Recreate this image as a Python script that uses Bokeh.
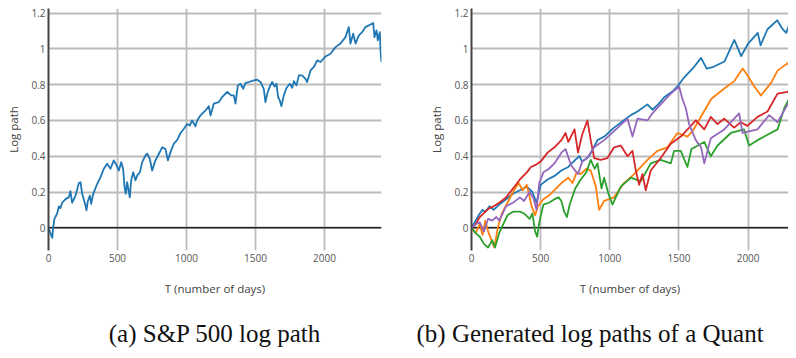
from bokeh.plotting import figure
from bokeh.models import Span, FixedTicker, CustomJSTickFormatter, Range1d, Label
from bokeh.layouts import row, column
from bokeh.embed import file_html
from bokeh.resources import INLINE

# ---------------- data ----------------
x_ticks = [0, 500, 1000, 1500, 2000]
y_ticks = [0, 0.2, 0.4, 0.6, 0.8, 1.0, 1.2]
x_title = "T (number of days)"
y_title = "Log path"
caption_a = "(a) S&P 500 log path"
caption_b = "(b) Generated log paths of a Quant"

sp_t = [0, 14, 27, 34, 43, 63, 75, 87, 99, 123,
        147, 159, 171, 196, 220, 232, 244, 268, 275, 285,
        300, 309, 324, 353, 377, 401, 425, 449, 473, 493,
        510, 527, 541, 551, 560, 570, 582, 589, 599, 614,
        630, 643, 662, 679, 703, 715, 734, 751, 775, 800,
        824, 848, 865, 884, 908, 932, 957, 981, 1005, 1024,
        1041, 1065, 1077, 1101, 1138, 1162, 1174, 1198, 1234, 1258,
        1295, 1324, 1343, 1355, 1372, 1391, 1411, 1428, 1452, 1488,
        1512, 1536, 1560, 1572, 1585, 1604, 1621, 1638, 1652, 1664,
        1676, 1688, 1705, 1725, 1749, 1766, 1778, 1797, 1814, 1838,
        1862, 1874, 1899, 1923, 1947, 1971, 2007, 2043, 2080, 2116,
        2152, 2176, 2188, 2208, 2225, 2249, 2273, 2297, 2333, 2353,
        2362, 2377, 2386, 2401, 2406, 2413]
sp_y = [0.0, -0.03, -0.056, 0.0, 0.05, 0.08, 0.12, 0.11, 0.14, 0.16,
        0.17, 0.205, 0.14, 0.18, 0.25, 0.255, 0.19, 0.125, 0.097, 0.15,
        0.18, 0.134, 0.19, 0.246, 0.283, 0.33, 0.358, 0.33, 0.377, 0.35,
        0.32, 0.367, 0.33, 0.227, 0.19, 0.255, 0.2, 0.17, 0.265, 0.31,
        0.265, 0.293, 0.31, 0.367, 0.405, 0.414, 0.386, 0.32, 0.377, 0.414,
        0.45, 0.44, 0.377, 0.423, 0.47, 0.49, 0.53, 0.554, 0.58, 0.572,
        0.6, 0.567, 0.6, 0.628, 0.656, 0.68, 0.628, 0.694, 0.703, 0.73,
        0.76, 0.74, 0.74, 0.694, 0.796, 0.805, 0.777, 0.81, 0.815, 0.824,
        0.828, 0.815, 0.777, 0.703, 0.75, 0.79, 0.815, 0.79, 0.805, 0.73,
        0.712, 0.68, 0.74, 0.783, 0.805, 0.783, 0.82, 0.796, 0.852, 0.852,
        0.833, 0.815, 0.88, 0.899, 0.936, 0.927, 0.958, 0.973, 1.01, 1.03,
        1.066, 1.122, 1.03, 1.085, 1.03, 1.076, 1.094, 1.122, 1.137, 1.145,
        1.066, 1.104, 1.048, 1.094, 0.99, 0.927]

blue_t = [0, 30, 60, 80, 100, 130, 160, 200, 250, 300, 350, 400, 440, 470, 500,
          550, 600, 650, 700, 750, 780, 800, 850, 911, 960, 1031, 1100, 1152, 1200,
          1272, 1308, 1350, 1393, 1450, 1489, 1537, 1610, 1660, 1700, 1750, 1830,
          1900, 1950, 2000, 2070, 2090, 2140, 2210, 2250, 2275, 2310, 2352]
blue_y = [0, 0.04, 0.08, 0.10, 0.09, 0.12, 0.10, 0.13, 0.16, 0.19, 0.21, 0.23, 0.20, 0.14, 0.24,
          0.27, 0.29, 0.32, 0.34, 0.38, 0.40, 0.37, 0.40, 0.49, 0.51, 0.56, 0.60, 0.63, 0.65,
          0.69, 0.66, 0.69, 0.73, 0.76, 0.79, 0.84, 0.90, 0.95, 0.89, 0.90, 0.93,
          1.05, 0.96, 1.03, 1.09, 1.02, 1.11, 1.16, 1.11, 1.09, 1.16, 1.20]

orange_t = [0, 30, 60, 80, 100, 120, 150, 165, 190, 220, 260, 300, 340, 370, 400,
            435, 460, 480, 520, 560, 600, 650, 700, 730, 760, 790, 830, 862, 899, 923,
            959, 1031, 1103, 1176, 1272, 1344, 1417, 1489, 1561, 1598, 1636, 1733, 1830,
            1900, 1961, 1997, 2045, 2093, 2166, 2214, 2286, 2322, 2352]
orange_y = [0, -0.03, 0.02, -0.04, 0.04, -0.02, -0.08, -0.11, 0.0, 0.08, 0.14, 0.20, 0.25, 0.21, 0.24,
            0.12, 0.07, 0.12, 0.16, 0.18, 0.21, 0.25, 0.28, 0.25, 0.31, 0.30, 0.33, 0.32, 0.23, 0.10,
            0.15, 0.17, 0.25, 0.30, 0.38, 0.43, 0.45, 0.53, 0.51, 0.54, 0.59, 0.72, 0.78,
            0.82, 0.89, 0.85, 0.79, 0.74, 0.81, 0.88, 0.92, 0.86, 0.88]

green_t = [0, 30, 60, 90, 120, 150, 170, 200, 230, 260, 300, 350, 380, 420, 440,
           460, 475, 490, 520, 560, 600, 630, 650, 670, 690, 710, 750, 790, 830, 862,
           890, 911, 940, 959, 990, 1019, 1079, 1152, 1224, 1296, 1368, 1441, 1465, 1513,
           1561, 1590, 1683, 1730, 1779, 1875, 1971, 2007, 2068, 2140, 2213, 2262, 2309, 2352]
green_y = [0, -0.03, -0.05, -0.09, -0.11, -0.07, -0.11, -0.03, 0.02, 0.07, 0.09, 0.09, 0.08, 0.05, 0.08,
           -0.02, -0.05, 0.03, 0.13, 0.14, 0.16, 0.17, 0.15, 0.09, 0.06, 0.13, 0.22, 0.27, 0.31, 0.38,
           0.33, 0.36, 0.22, 0.28, 0.19, 0.13, 0.23, 0.28, 0.26, 0.36, 0.38, 0.36, 0.43, 0.43,
           0.34, 0.44, 0.48, 0.40, 0.46, 0.53, 0.55, 0.46, 0.49, 0.52, 0.55, 0.67, 0.74, 0.76]

red_t = [0, 30, 60, 100, 130, 160, 200, 250, 300, 350, 400, 430, 460, 500, 550,
         600, 650, 680, 700, 745, 770, 800, 838, 862, 887, 935, 983, 1031, 1079, 1128,
         1164, 1188, 1212, 1236, 1260, 1296, 1368, 1441, 1513, 1586, 1622, 1683, 1730,
         1779, 1827, 1899, 1947, 1995, 2068, 2140, 2213, 2286, 2352]
red_y = [0, 0.02, 0.06, 0.09, 0.11, 0.12, 0.14, 0.17, 0.22, 0.27, 0.31, 0.34, 0.35, 0.37, 0.42,
         0.45, 0.49, 0.53, 0.48, 0.55, 0.42, 0.52, 0.60, 0.49, 0.39, 0.38, 0.39, 0.45, 0.46, 0.40,
         0.43, 0.32, 0.24, 0.30, 0.21, 0.32, 0.39, 0.47, 0.51, 0.57, 0.60, 0.55, 0.62,
         0.58, 0.61, 0.56, 0.59, 0.57, 0.62, 0.65, 0.75, 0.76, 0.81]

purple_t = [0, 30, 60, 90, 120, 150, 180, 200, 250, 300, 350, 380, 420, 450, 470,
            490, 520, 560, 600, 650, 680, 720, 770, 800, 838, 887, 959, 1031, 1128, 1164,
            1200, 1272, 1308, 1368, 1441, 1501, 1525, 1549, 1573, 1622, 1660, 1683, 1730,
            1827, 1935, 1960, 2068, 2152, 2213, 2286, 2322, 2352]
purple_y = [0, 0.02, 0.03, -0.02, 0.05, 0.04, 0.06, 0.04, 0.12, 0.14, 0.17, 0.15, 0.20, 0.16, 0.10,
            0.25, 0.31, 0.33, 0.36, 0.42, 0.44, 0.35, 0.30, 0.37, 0.39, 0.45, 0.49, 0.54, 0.61, 0.51,
            0.61, 0.60, 0.64, 0.69, 0.75, 0.79, 0.72, 0.67, 0.58, 0.49, 0.45, 0.36, 0.50,
            0.55, 0.64, 0.53, 0.55, 0.63, 0.59, 0.69, 0.73, 0.65]

generated = [
    (blue_t, blue_y, "#1f77b4"),
    (orange_t, orange_y, "#ff7f0e"),
    (green_t, green_y, "#2ca02c"),
    (red_t, red_y, "#d62728"),
    (purple_t, purple_y, "#9467bd"),
]

# ---------------- layout constants ----------------
Y_MIN, Y_MAX = -0.127, 1.226
PLOT_H = 300
TOP = 8
FRAME_H = 242
BOTTOM = PLOT_H - TOP - FRAME_H
CAP_H = 50
AX_FONT = "Open Sans"


def make_fig(width, b_left, b_right, x_end):
    p = figure(width=width, height=PLOT_H, title=None,
               output_backend="svg", toolbar_location=None,
               x_range=Range1d(0, x_end), y_range=Range1d(Y_MIN, Y_MAX),
               min_border_left=b_left, min_border_right=b_right,
               min_border_top=TOP, min_border_bottom=BOTTOM)
    p.outline_line_color = None
    p.background_fill_color = "white"
    p.border_fill_color = "white"

    p.xgrid.ticker = FixedTicker(ticks=x_ticks)
    p.ygrid.ticker = FixedTicker(ticks=y_ticks)
    p.grid.grid_line_color = "#bbbbbb"
    p.grid.grid_line_width = 1.8

    for ax in (p.xaxis[0], p.yaxis[0]):
        ax.major_tick_line_color = None
        ax.minor_tick_line_color = None
        ax.major_tick_out = 0
        ax.major_tick_in = 0
        ax.minor_tick_out = 0
        ax.major_label_text_font = AX_FONT
        ax.major_label_text_font_size = "10px"
        ax.major_label_text_color = "#555555"
        ax.axis_label_text_font = AX_FONT
        ax.axis_label_text_font_size = "11.5px"
        ax.axis_label_text_font_style = "normal"
        ax.axis_label_text_color = "#444444"

    xa = p.xaxis[0]
    xa.ticker = FixedTicker(ticks=x_ticks)
    xa.axis_line_color = None
    xa.major_label_standoff = 3
    xa.axis_label = x_title
    xa.axis_label_standoff = 16

    ya = p.yaxis[0]
    ya.ticker = FixedTicker(ticks=y_ticks)
    ya.formatter = CustomJSTickFormatter(code="return String(Math.round(tick*10)/10);")
    ya.axis_line_color = "#444444"
    ya.axis_line_width = 2
    ya.major_label_standoff = 3
    ya.axis_label = y_title
    ya.axis_label_standoff = 7

    p.add_layout(Span(location=0, dimension="width", line_color="#222222",
                      line_width=1.5, level="underlay"))
    return p


# left panel: frame 48px from the left edge, 333px wide
p1 = make_fig(414, 48, 33, 2413)
p1.line(sp_t, sp_y, line_color="#1f77b4", line_width=1.8, line_join="round")

# right panel: frame 57px from its edge, 317px wide, same day scale
p2 = make_fig(374, 57, 0, 2292)
for tt, yy, col in generated:
    p2.line(tt, yy, line_color=col, line_width=1.8, line_join="round")

# caption strip below both panels (pixel-like coordinates)
TOTAL_W = 414 + 374
cap = figure(width=TOTAL_W, height=CAP_H, title=None, output_backend="svg",
             toolbar_location=None, x_axis_type=None, y_axis_type=None,
             x_range=Range1d(0, TOTAL_W), y_range=Range1d(0, CAP_H),
             min_border_left=0, min_border_right=0, min_border_top=0,
             min_border_bottom=0)
cap.outline_line_color = None
cap.grid.visible = False
cap_style = dict(text_baseline="middle", text_font="Liberation Serif",
                 text_font_size="25px", text_color="#111111")
cap.add_layout(Label(x=48 + 333 / 2, y=CAP_H - 33, text=caption_a,
                     text_align="center", **cap_style))
cap.add_layout(Label(x=416, y=CAP_H - 33, text=caption_b,
                     text_align="left", **cap_style))

layout = column(row(p1, p2), cap)
open("out.html", "w").write(file_html(layout, INLINE))
